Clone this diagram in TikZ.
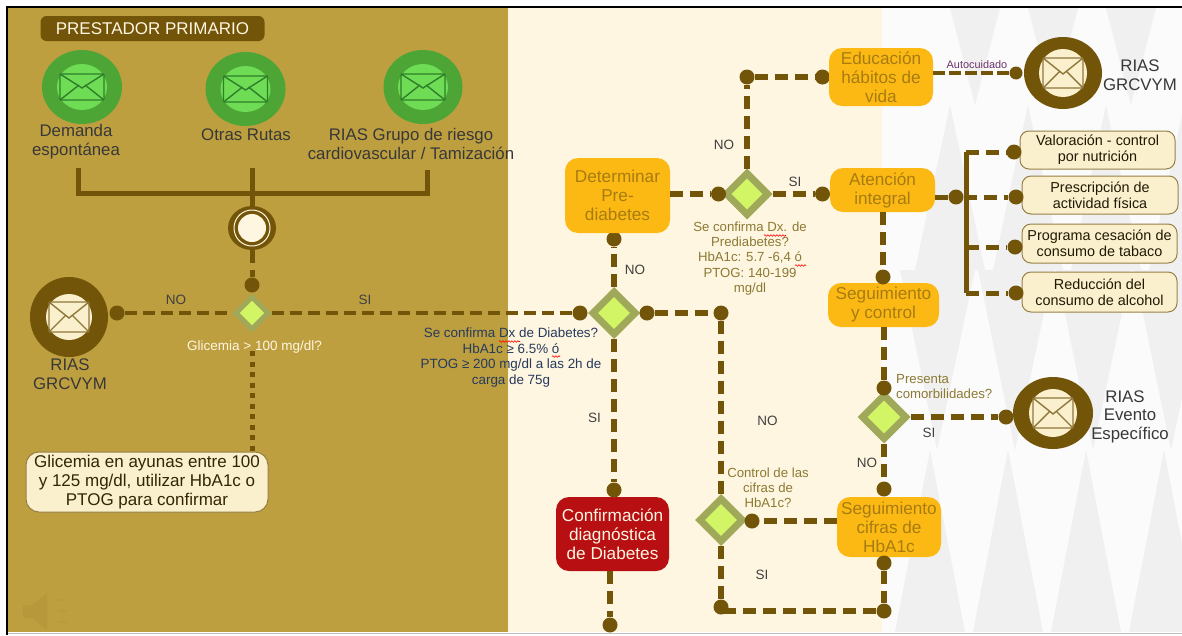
\documentclass[tikz,border=0pt]{standalone}
\usepackage{fontspec}
\setmainfont{Liberation Sans}
\usetikzlibrary{shapes.geometric,decorations.pathmorphing}
\definecolor{goldpanel}{HTML}{BD9F3F}
\definecolor{creampanel}{HTML}{FFF6E1}
\definecolor{whitepanel}{HTML}{FBFBFB}
\definecolor{greypanel}{HTML}{F0F0F0}
\definecolor{routebrown}{HTML}{725509}
\definecolor{boxorange}{HTML}{FDB913}
\definecolor{boxtext}{HTML}{A67C12}
\definecolor{olivetext}{HTML}{8C7A33}
\definecolor{navytext}{HTML}{263A5C}
\definecolor{greengate}{HTML}{A0A95A}
\definecolor{limegate}{HTML}{D2F566}
\definecolor{redbox}{HTML}{B70F12}
\definecolor{softbox}{HTML}{FBF0CE}
\definecolor{greenouter}{HTML}{4CA535}
\definecolor{greeninner}{HTML}{6EDC55}
\definecolor{greenline}{HTML}{2F7F2A}
\tikzset{
  caption/.style={align=center,inner sep=0pt,text=black!78,font=\fontsize{16.8}{19}\selectfont},
  yesno/.style={inner sep=0pt,text=black!75,font=\fontsize{13.5}{15}\selectfont},
  question/.style={align=center,inner sep=0pt,text=olivetext,font=\fontsize{13.2}{15.2}\selectfont},
  stepbox/.style={rectangle,rounded corners=13pt,fill=boxorange,align=center,inner sep=0pt,text=boxtext,font=\fontsize{17.2}{19}\selectfont},
  softnote/.style={rectangle,rounded corners=9pt,fill=softbox,draw=routebrown!75,line width=1pt,align=center,inner sep=0pt,text=black!72!routebrown,font=\fontsize{14.4}{16}\selectfont},
  gate/.style={diamond,aspect=1,inner sep=0pt,fill=limegate,draw=greengate,line width=7pt},
  joint/.style={circle,fill=routebrown,inner sep=0pt,minimum size=15pt},
  route/.style={routebrown,line width=5.5pt,dash pattern=on 13pt off 7pt},
  thinroute/.style={routebrown,line width=4pt,dash pattern=on 12pt off 6pt},
  trunk/.style={routebrown,line width=5pt},
  greenring/.style={ellipse,fill=greenouter,inner sep=0pt},
  brownring/.style={ellipse,fill=routebrown,inner sep=0pt},
  spellmark/.style={red,line width=0.6pt,decorate,decoration={snake,amplitude=0.8pt,segment length=3pt}},
}
% envelope inside a ring: centre, half width, half height, colour
\newcommand\mailicon[5]{
  \draw[#5,line width=1.4pt,rounded corners=1pt] (#1-#3,#2-#4) rectangle (#1+#3,#2+#4);
  \draw[#5,line width=1.4pt] (#1-#3,#2-#4) -- (#1,#2+1) -- (#1+#3,#2-#4);
  \draw[#5,line width=1.4pt] (#1-#3,#2+#4) -- (#1-3,#2-2);
  \draw[#5,line width=1.4pt] (#1+#3,#2+#4) -- (#1+3,#2-2);
}
\begin{document}
\begin{tikzpicture}[x=1pt, y=-1pt]
\useasboundingbox (0,0) rectangle (1182,635);
\fill[white] (0,0) rectangle (1182,635);
\fill[goldpanel] (8,8) rectangle (508,632);
\fill[creampanel] (508,8) rectangle (882,632);
\fill[whitepanel] (882,8) rectangle (1182,632);
% triangles of the right panel
\foreach \i in {0,...,3}
{
  \fill[greypanel] (950+\i*78,8) -- (1000+\i*78,8) -- (975+\i*78,105) -- cycle;
  \fill[greypanel] (915+\i*78,270) -- (985+\i*78,270) -- (950+\i*78,105) -- cycle;
  \fill[greypanel] (900+\i*78,270) -- (975+\i*78,270) -- (937+\i*78,450) -- cycle;
  \fill[greypanel] (895+\i*78,632) -- (965+\i*78,632) -- (930+\i*78,450) -- cycle;
}
\draw[black,line width=2.5pt] (7,635) -- (7,7) -- (1182,7);
\draw[black!25,line width=1pt] (8,633) -- (1182,633);
% speaker
\fill[routebrown!8!goldpanel] (23,605) -- (32,605) -- (47,593) -- (47,630) -- (32,618) -- (23,618) -- cycle;
\foreach \y in {600,611,622}
{
  \draw[routebrown!6!goldpanel,line width=2pt] (58,\y) -- (67,\y);
}

\node[rectangle,rounded corners=6pt,fill=routebrown,minimum width=224pt,minimum height=25pt,text=creampanel,font=\fontsize{17}{18}\selectfont] (header) at (152.5,28.5) {PRESTADOR PRIMARIO};

% entry points
\node[greenring,minimum width=80pt,minimum height=74pt] (demanda) at (82,87) {};
\node[greenring,minimum width=80pt,minimum height=74pt] (rutas) at (245.5,89) {};
\node[greenring,minimum width=79pt,minimum height=74pt] (tamizacion) at (423,87) {};
\foreach \x/\y in {82/87,245.5/89,423/87}
{
  \fill[greeninner] (\x,\y) ellipse [x radius=25pt, y radius=23pt];
  \mailicon{\x}{\y}{22}{13}{greenline}
}
\node[caption] (demandatext) at (76,141.5) {Demanda\\espontánea};
\node[caption] (rutastext) at (246,135) {Otras Rutas};
\node[caption] (tamizaciontext) at (411,144) {RIAS Grupo de riesgo\\cardiovascular / Tamización};

% merge
\node[brownring,minimum width=48pt,minimum height=44pt] (merge) at (252,228) {};
\fill[creampanel] (252,228) circle [radius=14pt];
\draw[creampanel,line width=1pt] (252,228) circle [radius=18pt];
\coordinate (stemA) at (78,168);
\coordinate (stemB) at (252,168);
\coordinate (stemC) at (427,170);
\coordinate (mergeL) at (78,193);
\coordinate (mergeR) at (427,193);
\draw[trunk] (stemA) -- (mergeL) -- (mergeR) -- (stemC);
\draw[trunk] (stemB) -- (merge);

% left column
\node[gate,minimum size=34pt,line width=5pt] (glicemia) at (252,313) {};
\node[joint] (glicemiaN) at (252,285) {};
\draw[route,line width=5pt] (merge) -- (glicemiaN);
\node[brownring,minimum width=78pt,minimum height=80pt] (riasleft) at (69,317) {};
\fill[softbox] (69,317) circle [radius=23pt];
\mailicon{69}{317}{20}{15}{routebrown!80}
\node[caption] (riaslefttext) at (70,374.5) {RIAS\\GRCVYM};
\node[joint] (glicemiaW) at (117,313) {};
\draw[thinroute] (glicemiaW) -- (glicemia);
\node[yesno] (noA) at (176,300) {NO};
\node[yesno] (siA) at (365,300) {SI};
\node[inner sep=0pt,text=creampanel,font=\fontsize{13.5}{14}\selectfont] (glicemiatext) at (254.5,347) {Glicemia > 100 mg/dl?};
\node[rectangle,rounded corners=13pt,fill=softbox,draw=routebrown!75,line width=1pt,minimum width=242pt,minimum height=60pt,align=center,inner sep=0pt,text=black!55!routebrown,font=\fontsize{17}{19}\selectfont] (ayunas) at (147,482) {Glicemia en ayunas entre 100\\y 125 mg/dl, utilizar HbA1c o\\PTOG para confirmar};
\coordinate (dotsTop) at (252,351);
\draw[routebrown,line width=5pt,dash pattern=on 5pt off 5.5pt] (dotsTop) -- (ayunas.north -| dotsTop);

% diabetes gate
\node[gate,minimum size=45pt] (diabetes) at (614,313) {};
\node[joint] (diabetesW) at (580,313) {};
\node[joint] (diabetesE) at (647,313) {};
\node[joint] (diabetesN) at (614,239) {};
\draw[thinroute] (glicemia) -- (diabetesW);
\node[inner sep=0pt,align=center,text=navytext,font=\fontsize{13.4}{15.6}\selectfont] (diabetestext) at (511,357.5) {Se confirma Dx de Diabetes?\\HbA1c ≥ 6.5\% ó\\PTOG ≥ 200 mg/dl a las 2h de\\carga de 75g};
\draw[spellmark] (499,341.5) -- (520,341.5);
\draw[spellmark] (552,356.5) -- (560,356.5);
\node[stepbox,minimum width=105pt,minimum height=75pt] (determinar) at (617.5,195.5) {Determinar\\Pre-\\diabetes};
\draw[route] (diabetes) -- (diabetesN);
\node[yesno] (noB) at (635,270) {NO};
\node[yesno] (siB) at (594.5,418) {SI};

% confirmation
\node[stepbox,fill=redbox,text=creampanel,minimum width=113pt,minimum height=74pt] (confirmacion) at (612.5,534) {Confirmación\\diagnóstica\\de Diabetes};
\node[joint] (confirmacionN) at (614,490) {};
\node[joint] (confirmacionS) at (610,625) {};
\draw[route] (diabetes) -- (confirmacionN);
\draw[route] (confirmacion.south -| confirmacionS) -- (confirmacionS);

% prediabetes gate
\node[gate,minimum size=44pt] (prediabetes) at (747,194) {};
\node[joint] (prediabetesW) at (718.5,194) {};
\node[joint] (educacionCorner) at (747,77) {};
\node[joint] (educacionW) at (822.5,77) {};
\node[joint] (atencionW) at (822.5,194) {};
\draw[route] (determinar.east |- prediabetesW) -- (prediabetesW);
\draw[route] (prediabetes) -- (educacionCorner);
\draw[route] (educacionCorner) -- (educacionW);
\draw[route] (prediabetes) -- (atencionW);
\node[yesno] (noC) at (724,145) {NO};
\node[yesno] (siC) at (795,182) {SI};
\node[question] (prediabetestext) at (750,258.5) {Se confirma Dx. de\\Prediabetes?\\HbA1c: 5.7 -6,4 ó\\PTOG: 140-199\\mg/dl};
\draw[spellmark] (764,235.5) -- (786,235.5);
\draw[spellmark] (795,265.5) -- (806,265.5);

\node[stepbox,minimum width=104pt,minimum height=58pt] (educacion) at (881,77) {Educación\\hábitos de\\vida};
\node[stepbox,minimum width=105pt,minimum height=44pt] (atencion) at (882.5,190) {Atención\\integral};
\node[stepbox,minimum width=111pt,minimum height=44pt] (control) at (883.5,305) {Seguimiento\\y control};
\node[joint] (controlN) at (883,277) {};
\draw[route] (atencion.south -| controlN) -- (controlN);

% RIAS top right
\node[brownring,minimum width=78pt,minimum height=72pt] (riastop) at (1063,73) {};
\fill[softbox] (1063,73) ellipse [x radius=24pt, y radius=24pt];
\mailicon{1063}{73}{20}{15}{routebrown!80}
\node[joint,minimum size=13pt] (riastopW) at (1016,73) {};
\draw[route,line width=4.5pt,dash pattern=on 12pt off 4pt] (educacion.east |- riastopW) -- (riastopW);
\node[inner sep=0pt,text=violet!55!black!80,font=\fontsize{10.9}{11}\selectfont] (autocuidado) at (977,65) {Autocuidado};
\node[caption] (riastoptext) at (1140,75) {RIAS\\GRCVYM};

% care branches
\node[softnote,minimum width=155pt,minimum height=38pt] (nutricion) at (1097.5,150) {Valoración - control\\por nutrición};
\node[softnote,minimum width=156pt,minimum height=38pt] (actividad) at (1100,195) {Prescripción de\\actividad física};
\node[softnote,minimum width=155pt,minimum height=39pt] (tabaco) at (1099.5,243.5) {Programa cesación de\\consumo de tabaco};
\node[softnote,minimum width=155pt,minimum height=40pt] (alcohol) at (1099.5,292) {Reducción del\\consumo de alcohol};
\node[joint] (nutricionW) at (1014,152) {};
\node[joint] (actividadW) at (1016,197) {};
\node[joint] (tabacoW) at (1015,247) {};
\node[joint] (alcoholW) at (1016,293) {};
\node[joint] (atencionE) at (956,197) {};
\coordinate (branchTop) at (966,152);
\coordinate (branchTabaco) at (966,247);
\coordinate (branchBottom) at (966,293);
\draw[trunk] (atencion.east |- atencionE) -- (atencionE);
\draw[trunk] (branchTop) -- (branchBottom);
\draw[route,line width=5pt] (branchTop) -- (nutricionW);
\draw[route,line width=5pt] (atencionE) -- (actividadW);
\draw[route,line width=5pt] (branchTabaco) -- (tabacoW);
\draw[route,line width=5pt] (branchBottom) -- (alcoholW);

% comorbidity gate
\node[gate,minimum size=46pt] (comorbilidad) at (884,417) {};
\node[joint] (comorbilidadN) at (884,388) {};
\node[joint] (cifrasN) at (884,489) {};
\node[joint] (eventoW) at (1006,417) {};
\draw[route] (control.south -| comorbilidadN) -- (comorbilidadN);
\draw[route] (comorbilidad) -- (cifrasN);
\draw[route] (comorbilidad) -- (eventoW);
\node[question,align=left,anchor=west] (comorbilidadtext) at (896,386.5) {Presenta\\comorbilidades?};
\node[yesno] (siD) at (929,433) {SI};
\node[yesno] (noD) at (867,463) {NO};
\node[brownring,minimum width=80pt,minimum height=72pt] (riasevento) at (1053,413) {};
\fill[softbox] (1053,413) ellipse [x radius=24pt, y radius=24pt];
\mailicon{1053}{413}{20}{15}{routebrown!80}
\node[inner sep=0pt,anchor=center,text=black!78,font=\fontsize{16.8}{19}\selectfont] (riaseventotext) at (1125,397) {RIAS};
\node[caption] (eventotext) at (1130,426) {Evento\\Específico};

% follow up
\node[stepbox,minimum width=104pt,minimum height=60pt] (cifras) at (889,527) {Seguimiento\\cifras de\\HbA1c};
\node[joint] (cifrasS) at (884,563) {};
\node[joint] (cierreE) at (884,611) {};
\node[joint] (cierreW) at (721,607) {};
\draw[route] (cifrasS) -- (cierreE);
\draw[route] (cierreE) -- (cierreE -| cierreW);

% HbA1c gate
\node[gate,minimum size=45pt] (cifrasgate) at (721,520) {};
\node[joint] (cifrasgateE) at (752,521) {};
\node[joint] (diabetesCorner) at (721,313) {};
\draw[route] (diabetesE) -- (diabetesCorner);
\draw[route] (diabetesCorner) -- (cifrasgate);
\draw[route] (cifrasgate) -- (cierreW);
\draw[route] (cifras.west |- cifrasgateE) -- (cifrasgateE);
\node[question] (cifrastext) at (768,488) {Control de las\\cifras de\\HbA1c?};
\node[yesno] (noE) at (767.5,421) {NO};
\node[yesno] (siE) at (762,575) {SI};
\end{tikzpicture}
\end{document}
